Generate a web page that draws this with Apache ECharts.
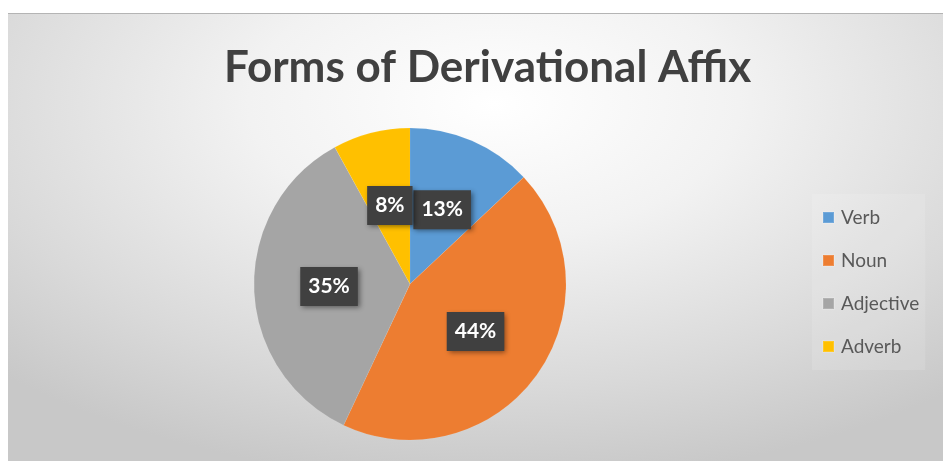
<!DOCTYPE html>
<html>
<head>
<meta charset="utf-8">
<title>Forms of Derivational Affix</title>
<script src="https://cdn.jsdelivr.net/npm/echarts@6/dist/echarts.min.js"></script>
<style>
  html, body { margin: 0; padding: 0; background: #fff; }
  #chart {
    position: absolute;
    left: 8px;
    top: 13px;
    width: 935px;
    height: 448px;
    border-top: 1px solid #b4b4b4;
    box-sizing: border-box;
    background: radial-gradient(ellipse 75% 85% at 52% 20%, #ffffff 0%, #f2f2f2 35%, #d9d9d9 75%, #c8c8c8 100%);
  }
</style>
</head>
<body>
<div id="chart"></div>
<script>
// 数据
const categories = ['Verb', 'Noun', 'Adjective', 'Adverb']
const shares = [13, 44, 35, 8]
const colors = ['#5b9bd5', '#ed7d31', '#a5a5a5', '#ffc000']

const chart = echarts.init(document.getElementById('chart'), null, { renderer: 'canvas' })

chart.setOption({
  backgroundColor: 'transparent',
  animation: false,
  title: {
    text: 'Forms of Derivational Affix',
    left: 211,
    top: 27,
    textStyle: {
      fontFamily: 'Lato',
      fontSize: 44,
      fontWeight: 'bold',
      color: '#404040'
    }
  },
  legend: {
    orient: 'vertical',
    left: 804,
    top: 180,
    padding: [14, 6, 14, 10],
    backgroundColor: 'rgba(255,255,255,0.12)',
    itemWidth: 11,
    itemHeight: 11,
    itemGap: 24,
    icon: 'rect',
    data: categories,
    textStyle: {
      fontFamily: 'Lato',
      fontSize: 19,
      color: '#595959',
      padding: [0, 0, 0, 2]
    }
  },
  series: [{
    type: 'pie',
    center: [402, 270],
    radius: [0, 156],
    startAngle: 90,
    clockwise: true,
    avoidLabelOverlap: false,
    labelLayout: { hideOverlap: false },
    itemStyle: { borderColor: 'rgba(255,255,255,0.15)', borderWidth: 0.5 },
    label: {
      show: true,
      position: 'inside',
      formatter: '{c}%',
      fontFamily: 'Lato',
      fontSize: 21,
      fontWeight: 'bold',
      color: '#ffffff',
      backgroundColor: '#404040',
      padding: [9, 8, 9, 8],
      shadowColor: 'rgba(0,0,0,0.45)',
      shadowBlur: 5,
      shadowOffsetX: 2,
      shadowOffsetY: 2
    },
    labelLine: { show: false },
    data: categories.map((name, i) => ({
      name,
      value: shares[i],
      itemStyle: { color: colors[i] }
    }))
  }]
})
</script>
</body>
</html>
